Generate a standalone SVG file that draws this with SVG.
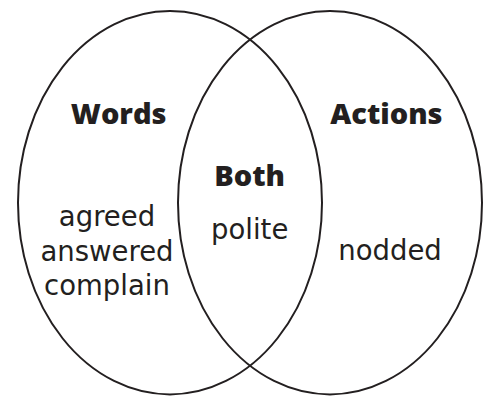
<svg xmlns="http://www.w3.org/2000/svg" width="490" height="397" viewBox="0 0 490 397">
<style>
.set{fill:none;stroke:#231f20;stroke-width:2}
.h{font-family:"Open Sans","Noto Sans",sans-serif;font-weight:800;font-size:29px;fill:#231f20;text-anchor:middle}
.t{font-family:"DejaVu Sans","Open Sans",sans-serif;font-size:27.5px;fill:#231f20;text-anchor:middle}
</style>
<rect width="490" height="397" fill="#ffffff"/>
<g id="words">
<ellipse class="set" cx="170" cy="202.7" rx="152" ry="191.7"/>
<text class="h" x="118.7" y="124">Words</text>
<text class="t" x="107" y="226">agreed</text>
<text class="t" x="107" y="260.5">answered</text>
<text class="t" x="107" y="295">complain</text>
</g>
<g id="actions">
<ellipse class="set" cx="330" cy="202.7" rx="152" ry="191.7"/>
<text class="h" x="386.4" y="124">Actions</text>
<text class="t" x="390" y="260">nodded</text>
</g>
<g id="both">
<text class="h" x="249.6" y="185.7">Both</text>
<text class="t" x="249.7" y="239.3">polite</text>
</g>
</svg>
